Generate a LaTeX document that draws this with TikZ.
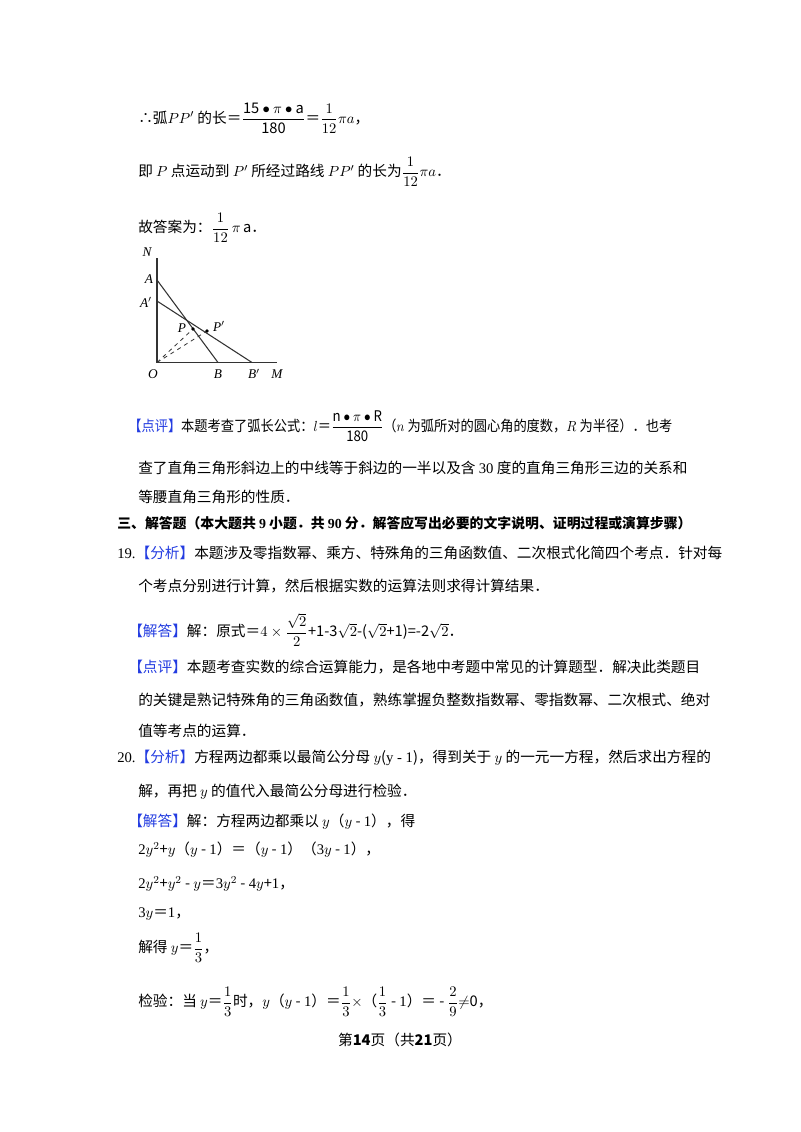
\documentclass[tikz,border=0pt]{standalone}
\usepackage{amsmath,amssymb}
\usepackage{fontspec}
\setmainfont{Noto Sans CJK SC}
\newfontfamily\lt{Liberation Serif}
\definecolor{tagblue}{RGB}{35,60,225}
\newcommand{\tagx}[1]{\textcolor{tagblue}{【#1】}}
\begin{document}
\begin{tikzpicture}[x=0.75pt,y=-0.75pt,
  tx/.style={anchor=west,inner sep=0pt,font=\fontsize{11}{13}\selectfont},
  lb/.style={inner sep=0pt,font=\fontsize{10}{12}\selectfont\lt\itshape},
  ln/.style={line width=0.8pt,black!80},
  dl/.style={line width=0.6pt,dashed,black!80}]
\useasboundingbox[fill=white] (0,0) rectangle (800,1132);
\node[tx] (l1) at (138,118) {∴弧$PP'$ 的长＝$\dfrac{\mathrm{15\bullet\pi\bullet a}}{\mathrm{180}}$＝$\dfrac{1}{12}\pi a$，};
\node[tx] (l2) at (138,172) {即 $P$ 点运动到 $P'$ 所经过路线 $PP'$ 的长为$\dfrac{1}{12}\pi a$．};
\node[tx] (l3) at (138,228) {故答案为：$\dfrac{1}{12}\,\pi\,\mathrm{a}$．};
% figure
\coordinate (O) at (157,362.5);
\coordinate (Ntop) at (157,258);
\coordinate (Mend) at (277,362.5);
\coordinate (A) at (157,280);
\coordinate (A1) at (157,301);
\coordinate (B) at (218,362.5);
\coordinate (B1) at (252,362.5);
\coordinate (P) at (193,329);
\coordinate (P1) at (207,331);
\draw[ln] (Ntop) -- (O) -- (Mend);
\draw[ln] (A) -- (B);
\draw[ln] (A1) -- (B1);
\draw[dl] (O) -- (P);
\draw[dl] (O) -- (P1);
\fill (P) circle (1.8);
\fill (P1) circle (1.8);
\node[lb] (nN) at (147,252) {N};
\node[lb] (nA) at (149,279) {A};
\node[lb] (nA1) at (146,302) {A$'$};
\node[lb] (nP) at (182,328) {P};
\node[lb] (nP1) at (219,326) {P$'$};
\node[lb] (nO) at (153,374) {O};
\node[lb] (nB) at (218,374) {B};
\node[lb] (nB1) at (254,374) {B$'$};
\node[lb] (nM) at (277,374) {M};
% comment
\node[tx] (c1) at (128,426) {\resizebox{408pt}{\height}{\tagx{点评}本题考查了弧长公式：$l$＝$\dfrac{\mathrm{n\bullet\pi\bullet R}}{\mathrm{180}}$（$n$ 为弧所对的圆心角的度数，$R$ 为半径）．也考}};
\node[tx] (c2) at (138,468) {查了直角三角形斜边上的中线等于斜边的一半以及含 {\lt 30} 度的直角三角形三边的关系和};
\node[tx] (c3) at (138,497) {等腰直角三角形的性质．};
\node[tx,font=\fontsize{10.4}{12}\selectfont] (h3) at (117,523) {\bfseries 三、解答题（本大题共 {\lt\bfseries 9} 小题．共 {\lt\bfseries 90} 分．解答应写出必要的文字说明、证明过程或演算步骤）};
\node[tx] (q19) at (117,553) {{\lt 19.}\tagx{分析}本题涉及零指数幂、乘方、特殊角的三角函数值、二次根式化简四个考点．针对每};
\node[tx] (q19b) at (138,586) {个考点分别进行计算，然后根据实数的运算法则求得计算结果．};
\node[tx] (q19c) at (128,630) {\tagx{解答}解：原式＝$4\times\dfrac{\sqrt{2}}{2}$+1-3$\sqrt{2}$-($\sqrt{2}$+1)=-2$\sqrt{2}$．};
\node[tx] (q19d) at (128,667) {\tagx{点评}本题考查实数的综合运算能力，是各地中考题中常见的计算题型．解决此类题目};
\node[tx] (q19e) at (138,700) {的关键是熟记特殊角的三角函数值，熟练掌握负整数指数幂、零指数幂、二次根式、绝对};
\node[tx] (q19f) at (138,731) {值等考点的运算．};
\node[tx] (q20) at (117,758) {{\lt 20.}\tagx{分析}方程两边都乘以最简公分母 $y$({\lt y - 1})，得到关于 $y$ 的一元一方程，然后求出方程的};
\node[tx] (q20b) at (138,792) {解，再把 $y$ 的值代入最简公分母进行检验．};
\node[tx] (q20c) at (128,822) {\tagx{解答}解：方程两边都乘以 $y$（$y$ - {\lt 1}），得};
\node[tx] (e1) at (138,850) {{\lt 2}$y^2$+$y$（$y$ - {\lt 1}）＝（$y$ - {\lt 1}）（{\lt 3}$y$ - {\lt 1}），};
\node[tx] (e2) at (138,884) {{\lt 2}$y^2$+$y^2$ - $y$＝{\lt 3}$y^2$ - {\lt 4}$y$+{\lt 1}，};
\node[tx] (e3) at (138,914) {{\lt 3}$y$＝{\lt 1}，};
\node[tx] (e4) at (138,948) {解得 $y$＝$\dfrac{1}{3}$，};
\node[tx] (e5) at (138,1002) {检验：当 $y$＝$\dfrac{1}{3}$时，$y$（$y$ - {\lt 1}）＝$\dfrac{1}{3}$$\times$（$\dfrac{1}{3}$ - {\lt 1}）＝ - $\dfrac{2}{9}$$\neq$0，};
\node[tx,anchor=center] (foot) at (400,1040) {第{\bfseries 14}页（共{\bfseries 21}页）};
\end{tikzpicture}
\end{document}
